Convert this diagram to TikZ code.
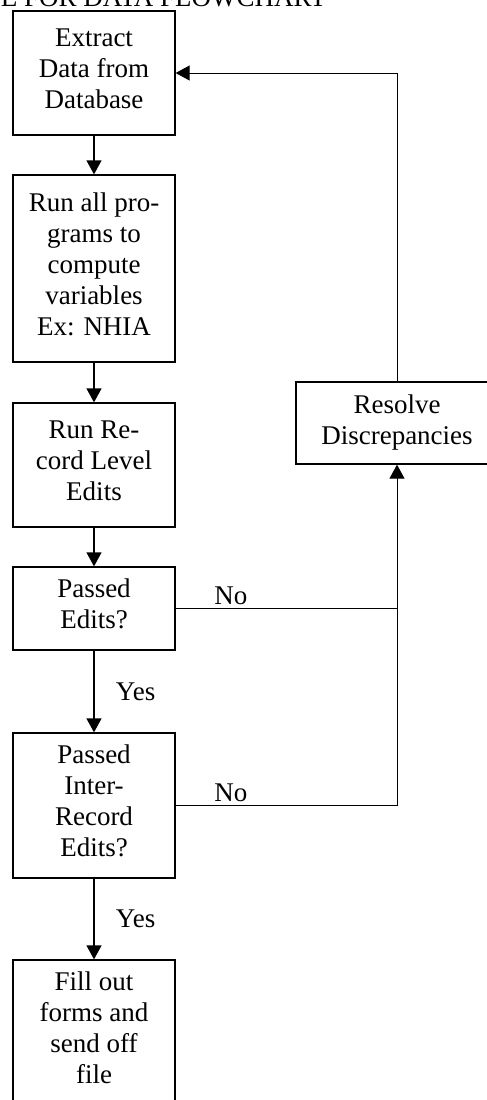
\documentclass[tikz,border=0pt]{standalone}
\usepackage{fontspec}
\setmainfont{Liberation Serif}
\usetikzlibrary{arrows.meta}
\begin{document}
\begin{tikzpicture}[x=1pt,y=-1pt,
    paso/.style={draw,line width=1.3pt,minimum width=162pt,align=center,
      inner sep=0pt,font=\fontsize{27}{31}\selectfont},
    flecha/.style={line width=1.3pt,-{Triangle[length=14pt,width=15pt]}},
    etiq/.style={font=\fontsize{27}{31}\selectfont}]
  \useasboundingbox (0,0) rectangle (487,1100);
  \node[etiq,anchor=base east] (titulo) at (330,6) {SAMPLE FOR DATA FLOWCHART};
  \foreach \nombre/\y/\h/\texto in {
      extraer/73/124/{Extract\\Data from\\Database},
      programas/268.5/187/{Run all pro-\\grams to\\compute\\variables\\Ex: NHIA},
      registro/465/124/{Run Re-\\cord Level\\Edits},
      pasado/608.5/83/{Passed\\Edits?},
      inter/805.5/145/{Passed\\Inter-\\Record\\Edits?},
      enviar/1032.5/145/{Fill out\\forms and\\send off\\file}}
    \node[paso,text depth=9pt,minimum height=\h pt] (\nombre) at (94,\y) {\texto};
  \node[paso,minimum width=202pt,minimum height=82pt] (resolver) at (397,423) {Resolve\\Discrepancies};
  \coordinate (j1) at (397,608.5);
  \coordinate (j2) at (397,805.5);
  \draw[flecha] (extraer) -- (programas);
  \draw[flecha] (programas) -- (registro);
  \draw[flecha] (registro) -- (pasado);
  \draw[flecha] (pasado) -- node[etiq,right=18pt] (si1) {Yes} (inter);
  \draw[flecha] (inter) -- node[etiq,right=18pt] (si2) {Yes} (enviar);
  \draw[line width=1pt] (pasado.east) -- node[etiq,above,pos=0.25] (no1) {No} (j1);
  \draw[line width=1pt] (inter.east) -- node[etiq,above,pos=0.25] (no2) {No} (j2);
  \draw[flecha,line width=1pt] (j2) -- (resolver.south);
  \draw[flecha,line width=1pt] (resolver.north) |- (extraer.east);
\end{tikzpicture}
\end{document}
